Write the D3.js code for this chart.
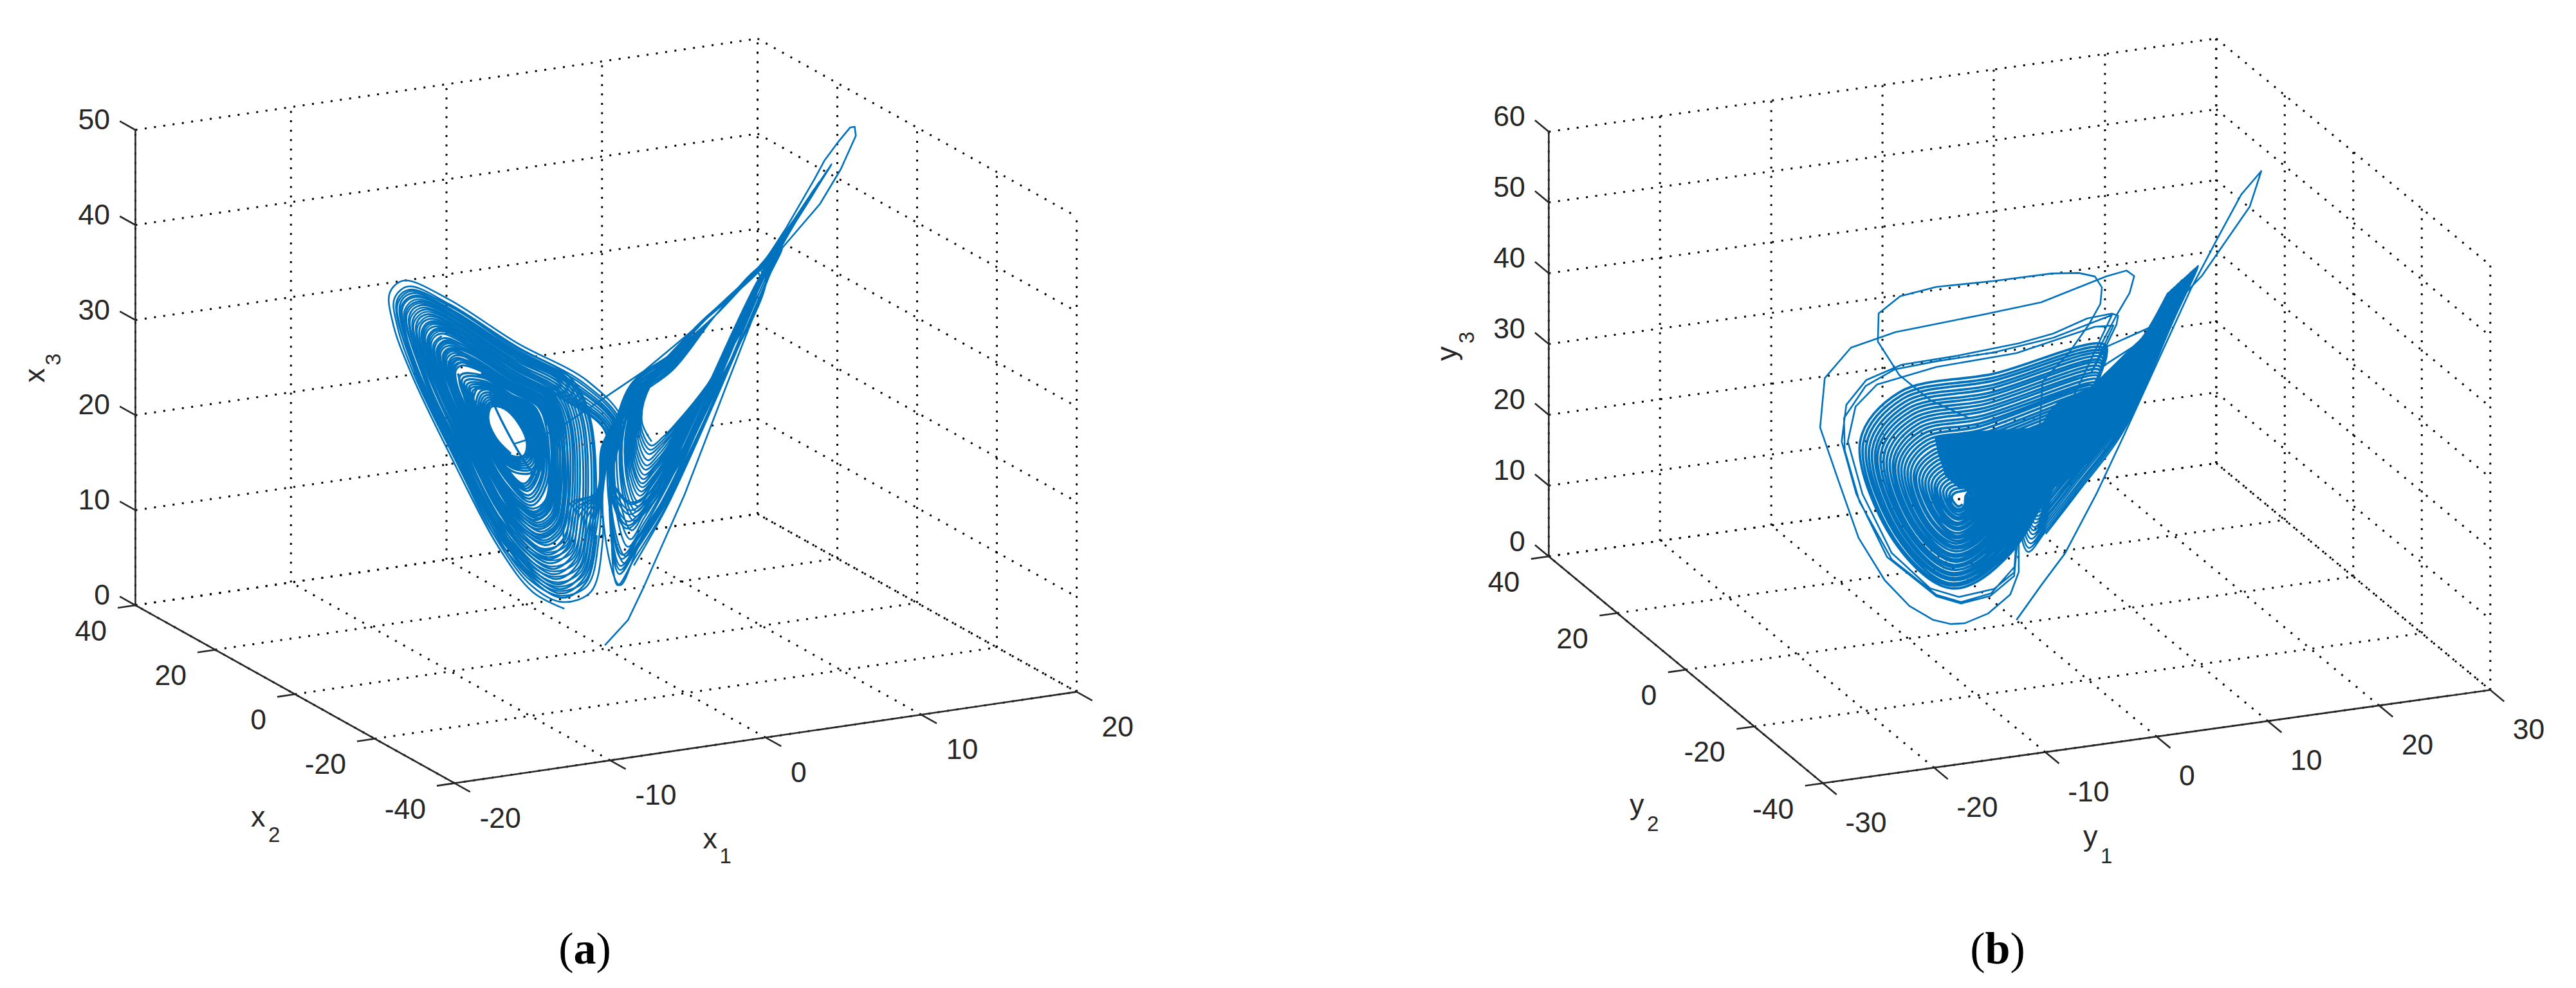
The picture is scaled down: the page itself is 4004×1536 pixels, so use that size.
<!DOCTYPE html>
<html>
<head>
<meta charset="utf-8">
<title>Attractors</title>
<script src="https://cdn.jsdelivr.net/npm/d3@7"></script>
<style>
    html, body { margin: 0; padding: 0; background: #fff; }
</style>
</head>
<body>
<script>
//tick labels
var x1Ticks = [-20, -10, 0, 10, 20]
var x2Ticks = [40, 20, 0, -20, -40]
var x3Ticks = [0, 10, 20, 30, 40, 50]
var y1Ticks = [-30, -20, -10, 0, 10, 20, 30]
var y2Ticks = [40, 20, 0, -20, -40]
var y3Ticks = [0, 10, 20, 30, 40, 50, 60]

//values. the depth coordinate cannot be read from a single view,
//so every point is taken on the plane x2 = x1 (y2 = y1) and only x1, x3 (y1, y3) are stored

//(a) first pass, from the start point up to the far tip and over into the left lobe
var x1Transient = [-.1, 1.9, 3.2, 6.8, 10.4, 14.9, 18.5, 20.3, 21.6, 21.5, 21.1, 20.1, 18.9, 18, 15.6, 13.2, 10.3, 7.1, 3.2, -1.7, -4.5, -7.9]
var x3Transient = [.4, 2.1, 4.8, 13, 22.7, 34.6, 38, 40.8, 43.7, 44.7, 44.8, 43.8, 42.4, 40.8, 36.9, 33.5, 31.5, 29.7, 27.6, 25.9, 25, 25.3]

//(a) big turns that leave the left lobe, dip into the right one and come back
var x1Open = [
    -3.6, -6.3, -9.1, -13.7, -16.9, -18.4, -18.7, -17.5, -13.7, -7.7, -1.6, 1.45, .72, .45, 1, 2.4, 5.45, 9.35, 13.8, 15.2, 9.5, 5.8, 2.1, .33, -.28, -.3, -1.3,
    -3.8, -6.4, -9.1, -13.5, -16.6, -18, -18.3, -17.1, -13.5, -7.7, -1.9, 1.26, .66, .3, 1.14, 2.54, 5.6, 9.39, 13.8, 15.05, 9.5, 5.8, 2.1, .25, -.35, -.6, -1.6,
    -3.9, -6.5, -9.1, -13.3, -16.3, -17.7, -18, -16.9, -13.3, -7.8, -2.1, 1.11, .62, .3, 1.2, 2.6, 5.66, 9.4, 13.8, 14.9, 9.5, 5.8, 2.1, .2, -.4, -.9, -1.8,
    -4.1, -6.5, -9, -13.2, -16.1, -17.4, -17.7, -16.6, -13.2, -7.8, -2.3, .97, .58, .3, 1.25, 2.65, 5.71, 9.41, 13.8, 14.75, 9.5, 5.8, 2.1, .14, -.45, -1.1, -2,
    -4.2, -6.6, -9, -13, -15.9, -17.2, -17.4, -16.4, -13, -7.8, -2.5, .84, .54, .3, 1.35, 2.75, 5.81, 9.44, 13.8, 14.6, 9.5, 5.8, 2.1, .09, -.5, -1.3, -2.2,
    -4.3, -6.6, -9, -12.9, -15.6, -16.9, -17.2, -16.2, -12.9, -7.8, -2.6, .72, .5, .3, 1.4, 2.8, 5.86, 9.45, 13.8, 14.45, 9.5, 5.8, 2.1, .05, -.54, -1.5, -2.4,
    -4.5, -6.7, -9, -12.8, -15.4, -16.6, -16.9, -15.9, -12.8, -7.8, -2.8, .58, .46, .3, 1.75, 3.15, 6.2, 9.53, 13.8, 14.3, 9.5, 5.8, 2.1, 0, -.59, -1.8, -2.6,
    -4.6, -6.8, -9, -12.6, -15.1, -16.3, -16.6, -15.6, -12.6, -7.9, -3.1, .43, .42, .3, 1.8, 3.2, 6.25, 9.54, 13.8, 14.15, 9.5, 5.8, 2.1, -.07, -.64, -2, -2.8,
    -4.8, -6.8, -9, -12.5, -14.9, -16, -16.3, -15.3, -12.5, -7.9, -3.3, .29, .37, .3, 1.85, 3.25, 6.3, 9.56, 13.8, 14, 9.5, 5.8, 2.1, -.13, -.7, -2.3, -3,
    -4.9, -6.9, -8.9, -12.3, -14.6, -15.7, -15.9, -15.1, -12.3, -7.9, -3.5, .14, .33, .3, 1.95, 3.35, 6.4, 9.58, 13.8, 13.85, 9.5, 5.8, 2.1, -.18, -.75, -2.5, -3.2,
    -5, -6.9, -8.9, -12.2, -14.5, -15.5, -15.7, -14.9, -12.2, -7.9, -3.6, .05, .3, .3, 2, 3.4, 6.45, 9.59, 13.8, 13.7, 9.5, 5.8, 2.1, -.22, -.78, -2.7, -3.4,
    -5.2, -7, -8.9, -12, -14.2, -15.2, -15.4, -14.6, -12, -8, -3.8, -.1, .26, .3, 2.08, 3.48, 6.54, 9.61, 13.8, 13.55, 9.5, 5.8, 2.1, -.28, -.84, -2.9, -3.6,
    -5.3, -7.1, -8.9, -11.9, -14, -15, -15.2, -14.4, -11.9, -8, -3.9, -.2, .23, .3, 2.1, 3.5, 6.56, 9.62, 13.8, 13.4, 9.5, 5.8, 2.1, -.31, -.87, -3.1, -3.7
]
var x3Open = [
    5.9, 8.9, 14.6, 27.4, 37.1, 42.8, 46.3, 47, 43.3, 35.8, 28.9, 23.2, 19.2, 13.9, 6.2, 8.2, 12.9, 21.4, 31.9, 35, 30.6, 28.4, 26.7, 20.7, 16.5, 11.4, 6.6,
    6.7, 9.6, 15.1, 27.4, 36.7, 42.2, 45.5, 46.2, 42.6, 35.4, 28.8, 23.2, 19.2, 14.4, 7.3, 9, 13.5, 21.6, 31.9, 34.9, 30.6, 28.3, 26.5, 20.8, 16.5, 12, 7.4,
    7.4, 10.2, 15.5, 27.4, 36.4, 41.7, 44.9, 45.6, 42.2, 35.2, 28.8, 23.2, 19.2, 14.6, 7.7, 9.3, 13.8, 21.7, 31.9, 34.8, 30.6, 28.1, 26.4, 20.9, 16.6, 12.5, 8,
    8, 10.7, 15.8, 27.4, 36.1, 41.2, 44.4, 45, 41.7, 34.9, 28.7, 23.2, 19.3, 14.8, 8.1, 9.6, 14, 21.8, 31.9, 34.6, 30.6, 27.9, 26.2, 21, 16.6, 13, 8.6,
    8.5, 11.2, 16.1, 27.3, 35.8, 40.8, 43.9, 44.5, 41.2, 34.7, 28.7, 23.2, 19.3, 15.2, 8.8, 10.2, 14.5, 21.9, 31.9, 34.5, 30.6, 27.8, 26.1, 21, 16.6, 13.3, 9.1,
    9, 11.6, 16.4, 27.3, 35.6, 40.4, 43.4, 44, 40.8, 34.5, 28.6, 23.2, 19.3, 15.4, 9.2, 10.5, 14.7, 22, 31.9, 34.4, 30.6, 27.7, 26, 21.1, 16.6, 13.7, 9.6,
    9.7, 12.1, 16.8, 27.3, 35.3, 39.9, 42.8, 43.4, 40.4, 34.2, 28.5, 23.2, 19.3, 16.7, 11.8, 12.5, 16.2, 22.6, 31.9, 34.3, 30.6, 27.5, 25.8, 21.2, 16.6, 14.2, 10.3,
    10.3, 12.7, 17.2, 27.3, 35, 39.5, 42.2, 42.8, 39.9, 33.9, 28.5, 23.2, 19.3, 16.9, 12.1, 12.7, 16.4, 22.6, 31.9, 34.2, 30.6, 27.4, 25.7, 21.3, 16.7, 14.7, 10.9,
    10.9, 13.2, 17.6, 27.3, 34.7, 39, 41.6, 42.2, 39.4, 33.7, 28.4, 23.2, 19.3, 17.1, 12.5, 13.1, 16.7, 22.7, 31.9, 34.1, 30.6, 27.2, 25.5, 21.3, 16.7, 15.1, 11.5,
    11.6, 13.8, 17.9, 27.3, 34.3, 38.5, 41.1, 41.6, 38.9, 33.4, 28.4, 23.2, 19.3, 17.4, 13.2, 13.6, 17.1, 22.8, 31.9, 34, 30.6, 27.1, 25.4, 21.4, 16.7, 15.6, 12.1,
    12, 14.1, 18.2, 27.3, 34.1, 38.2, 40.7, 41.2, 38.5, 33.2, 28.3, 23.2, 19.4, 17.6, 13.6, 13.9, 17.3, 22.9, 31.9, 33.9, 30.6, 26.9, 25.2, 21.5, 16.7, 15.9, 12.5,
    12.6, 14.7, 18.5, 27.2, 33.8, 37.7, 40.1, 40.6, 38.1, 33, 28.3, 23.2, 19.4, 17.9, 14.2, 14.4, 17.7, 23, 31.9, 33.8, 30.6, 26.8, 25.1, 21.5, 16.8, 16.4, 13.1,
    13, 15, 18.8, 27.2, 33.6, 37.4, 39.7, 40.2, 37.7, 32.8, 28.2, 23.2, 19.4, 18, 14.4, 14.5, 17.8, 23.1, 31.9, 33.7, 30.6, 26.6, 24.9, 21.6, 16.8, 16.7, 13.5
]

//(a) left lobe, closed rings in between the big turns
var x1Mid = [
    -.8, -1.7, -3.9, -9.1, -13.4, -16.4, -18.1, -17, -13.4, -7.7, -3.05, -1.36,
    -1, -1.9, -4, -9, -13.3, -16.2, -17.8, -16.7, -13.3, -7.8, -3.2, -1.5,
    -1.2, -2.1, -4.1, -9, -13.1, -16, -17.6, -16.5, -13.1, -7.8, -3.3, -1.7,
    -1.4, -2.3, -4.3, -9, -13, -15.7, -17.3, -16.2, -13, -7.8, -3.5, -1.96,
    -1.7, -2.5, -4.4, -9, -12.8, -15.5, -17, -16, -12.8, -7.8, -3.66, -2.15,
    -1.9, -2.7, -4.6, -9, -12.7, -15.3, -16.7, -15.7, -12.7, -7.9, -3.83, -2.38,
    -2.1, -2.9, -4.7, -9, -12.5, -15, -16.4, -15.5, -12.5, -7.9, -4, -2.6,
    -2.4, -3.1, -4.9, -9, -12.4, -14.8, -16.1, -15.2, -12.4, -7.9, -4.18, -2.84,
    -2.6, -3.3, -5, -8.9, -12.2, -14.5, -15.8, -15, -12.2, -7.9, -4.3, -3.03,
    -2.8, -3.5, -5.1, -8.9, -12.1, -14.3, -15.6, -14.8, -12.1, -7.9, -4.47, -3.2,
    -3, -3.7, -5.2, -8.9, -12, -14.1, -15.3, -14.5, -12, -8, -4.6, -3.4,
    -3.2, -3.9, -5.3, -8.9, -11.9, -13.9, -15.1, -14.3, -11.9, -8, -4.76, -3.6,
    -3.5, -4.1, -5.5, -8.9, -11.7, -13.7, -14.8, -14, -11.7, -8, -4.93, -3.83,
    -3.7, -4.3, -5.6, -8.9, -11.6, -13.5, -14.5, -13.8, -11.6, -8, -5.08, -4.02,
    -3.9, -4.4, -5.7, -8.8, -11.4, -13.2, -14.3, -13.6, -11.4, -8, -5.2, -4.2,
    -4.1, -4.6, -5.9, -8.8, -11.3, -13, -14, -13.4, -11.3, -8.1, -5.37, -4.4,
    -4.3, -4.8, -6, -8.8, -11.2, -12.8, -13.8, -13.1, -11.2, -8.1, -5.5, -4.6,
    -4.5, -5, -6.1, -8.8, -11.1, -12.6, -13.5, -12.9, -11.1, -8.1, -5.66, -4.8,
    -4.6, -5.1, -6.2, -8.8, -10.9, -12.4, -13.3, -12.7, -10.9, -8.1, -5.77, -4.93,
    -4.8, -5.3, -6.3, -8.8, -10.8, -12.3, -13.1, -12.5, -10.8, -8.1, -5.9, -5.08
]
var x3Mid = [
    12.3, 7.8, 7.2, 15.3, 27.4, 36.5, 45.1, 45.8, 42.3, 35.3, 29.9, 24.8,
    12.7, 8.3, 7.7, 15.6, 27.4, 36.2, 44.7, 45.3, 41.9, 35, 29.8, 24.9,
    13.1, 8.8, 8.2, 16, 27.3, 36, 44.2, 44.8, 41.5, 34.8, 29.7, 24.9,
    13.6, 9.4, 8.8, 16.3, 27.3, 35.7, 43.6, 44.2, 41, 34.6, 29.7, 25,
    14, 10, 9.4, 16.6, 27.3, 35.4, 43.1, 43.7, 40.6, 34.3, 29.6, 25.1,
    14.4, 10.6, 10, 17, 27.3, 35.1, 42.5, 43.1, 40.1, 34.1, 29.5, 25.1,
    14.9, 11.2, 10.6, 17.4, 27.3, 34.8, 41.9, 42.5, 39.6, 33.8, 29.4, 25.2,
    15.4, 11.8, 11.3, 17.7, 27.3, 34.5, 41.4, 41.9, 39.1, 33.5, 29.3, 25.3,
    15.7, 12.3, 11.8, 18, 27.3, 34.2, 40.9, 41.4, 38.7, 33.3, 29.2, 25.3,
    16.1, 12.8, 12.3, 18.4, 27.2, 34, 40.4, 40.9, 38.3, 33.1, 29.1, 25.4,
    16.5, 13.3, 12.8, 18.7, 27.2, 33.7, 39.9, 40.4, 37.9, 32.9, 29, 25.4,
    16.9, 13.8, 13.4, 19, 27.2, 33.5, 39.4, 39.9, 37.5, 32.6, 29, 25.5,
    17.4, 14.4, 14, 19.3, 27.2, 33.2, 38.8, 39.3, 37, 32.4, 28.9, 25.5,
    17.8, 14.9, 14.5, 19.6, 27.2, 32.9, 38.4, 38.8, 36.6, 32.2, 28.8, 25.6,
    18.1, 15.4, 15, 20, 27.2, 32.7, 37.9, 38.3, 36.2, 31.9, 28.7, 25.7,
    18.5, 15.9, 15.6, 20.3, 27.2, 32.4, 37.4, 37.8, 35.8, 31.7, 28.6, 25.7,
    18.9, 16.4, 16.1, 20.6, 27.2, 32.2, 36.9, 37.3, 35.3, 31.5, 28.5, 25.8,
    19.3, 16.9, 16.6, 20.9, 27.1, 31.9, 36.4, 36.7, 34.9, 31.3, 28.5, 25.8,
    19.6, 17.4, 17, 21.1, 27.1, 31.7, 36, 36.4, 34.6, 31.1, 28.4, 25.9,
    19.9, 17.8, 17.4, 21.4, 27.1, 31.5, 35.6, 36, 34.3, 30.9, 28.3, 25.9
]

//(a) left lobe, further in
var x1Left = [
    -14.2, -14.9, -14.7, -13.8, -11.8, -8.9, -7.1, -5.4, -4, -3.3, -3.7, -4.8, -8, -11.8,
    -13.9, -14.6, -14.4, -13.5, -11.6, -8.9, -7.2, -5.6, -4.2, -3.6, -3.9, -5, -8, -11.6,
    -13.7, -14.4, -14.2, -13.4, -11.5, -8.8, -7.2, -5.7, -4.3, -3.7, -4.1, -5.1, -8, -11.5,
    -13.5, -14.1, -13.9, -13.1, -11.4, -8.8, -7.3, -5.8, -4.5, -4, -4.3, -5.3, -8.1, -11.4,
    -13.3, -13.9, -13.7, -13, -11.3, -8.8, -7.3, -5.9, -4.7, -4.2, -4.5, -5.4, -8.1, -11.3,
    -13, -13.6, -13.5, -12.7, -11.1, -8.8, -7.4, -6.1, -4.9, -4.4, -4.7, -5.6, -8.1, -11.1,
    -12.8, -13.4, -13.3, -12.5, -11, -8.8, -7.4, -6.1, -5, -4.6, -4.9, -5.7, -8.1, -11,
    -12.6, -13.2, -13.1, -12.4, -10.9, -8.8, -7.5, -6.2, -5.2, -4.7, -5, -5.8, -8.1, -10.9,
    -12.5, -13, -12.9, -12.2, -10.8, -8.8, -7.5, -6.3, -5.3, -4.9, -5.2, -5.9, -8.1, -10.8
]
var x3Left = [
    39.6, 39.1, 36.9, 33.3, 27.2, 19.2, 15.6, 13.7, 14.1, 17.1, 25.5, 28.9, 32.5, 37.2,
    39, 38.5, 36.4, 33, 27.2, 19.5, 16.1, 14.3, 14.7, 17.6, 25.6, 28.8, 32.2, 36.7,
    38.6, 38.2, 36.1, 32.8, 27.2, 19.8, 16.5, 14.7, 15.1, 17.9, 25.6, 28.8, 32.1, 36.4,
    38, 37.6, 35.6, 32.5, 27.2, 20.1, 17, 15.3, 15.7, 18.4, 25.7, 28.7, 31.8, 35.9,
    37.6, 37.2, 35.3, 32.3, 27.2, 20.4, 17.4, 15.8, 16.1, 18.7, 25.7, 28.6, 31.6, 35.6,
    37, 36.6, 34.9, 32, 27.2, 20.8, 17.9, 16.4, 16.8, 19.2, 25.8, 28.5, 31.4, 35.1,
    36.5, 36.2, 34.5, 31.8, 27.1, 21, 18.3, 16.8, 17.2, 19.5, 25.8, 28.4, 31.2, 34.8,
    36.1, 35.8, 34.2, 31.6, 27.1, 21.2, 18.6, 17.2, 17.6, 19.8, 25.9, 28.4, 31, 34.4,
    35.7, 35.4, 33.9, 31.4, 27.1, 21.5, 19, 17.7, 18, 20.1, 25.9, 28.3, 30.8, 34.1
]

//(a) left lobe, tight rings round the hole
var x1Core = [
    -12.8, -12, -8.8, -6.4, -5, -6.1, -8.2, -10.7,
    -12.6, -11.9, -8.7, -6.5, -5.2, -6.2, -8.2, -10.6,
    -12.4, -11.7, -8.7, -6.6, -5.4, -6.3, -8.2, -10.5,
    -12.2, -11.5, -8.7, -6.7, -5.5, -6.4, -8.2, -10.4,
    -12, -11.4, -8.7, -6.8, -5.7, -6.5, -8.2, -10.3,
    -11.8, -11.2, -8.7, -6.9, -5.8, -6.6, -8.2, -10.2,
    -11.7, -11.1, -8.7, -7, -6, -6.7, -8.3, -10.1,
    -11.5, -11, -8.7, -7.1, -6.1, -6.8, -8.3, -10,
    -6.01, -5.5, -6.76, -9.03, -11.01, -11.52, -10.26, -7.99,
    -6.22, -5.75, -6.91, -8.99, -10.8, -11.27, -10.11, -8.03,
    -6.37, -5.94, -7.02, -8.96, -10.65, -11.08, -10, -8.06,
    -6.51, -6.11, -7.11, -8.93, -10.51, -10.91, -9.91, -8.09,
    -6.65, -6.27, -7.21, -8.9, -10.37, -10.75, -9.81, -8.12,
    -6.77, -6.42, -7.3, -8.87, -10.25, -10.6, -9.72, -8.15,
    -6.9, -6.57, -7.38, -8.85, -10.12, -10.45, -9.64, -8.17,
    -7.01, -6.71, -7.46, -8.82, -10.01, -10.31, -9.56, -8.2,
    -7.12, -6.84, -7.54, -8.8, -9.9, -10.18, -9.48, -8.22
]
var x3Core = [
    35, 31.2, 21.7, 18.1, 20.4, 28.2, 30.6, 33.8,
    34.7, 31, 22, 18.5, 20.7, 28.2, 30.5, 33.5,
    34.3, 30.8, 22.2, 18.9, 21, 28.1, 30.3, 33.1,
    33.9, 30.6, 22.5, 19.3, 21.3, 28.1, 30.1, 32.8,
    33.5, 30.4, 22.7, 19.8, 21.6, 28, 29.9, 32.5,
    33.2, 30.2, 22.9, 20.1, 21.9, 27.9, 29.8, 32.2,
    32.9, 30.1, 23.1, 20.4, 22.1, 27.9, 29.7, 32,
    32.6, 29.9, 23.3, 20.7, 22.3, 27.8, 29.5, 31.7,
    21.09, 23.19, 27.48, 31.42, 32.71, 30.61, 26.32, 22.38,
    21.57, 23.5, 27.43, 31.04, 32.23, 30.3, 26.37, 22.76,
    21.93, 23.73, 27.39, 30.77, 31.87, 30.07, 26.41, 23.03,
    22.25, 23.93, 27.36, 30.51, 31.55, 29.87, 26.44, 23.29,
    22.57, 24.14, 27.33, 30.26, 31.23, 29.66, 26.47, 23.54,
    22.86, 24.32, 27.3, 30.04, 30.94, 29.48, 26.5, 23.76,
    23.15, 24.51, 27.27, 29.81, 30.65, 29.29, 26.53, 23.99,
    23.41, 24.68, 27.25, 29.61, 30.39, 29.12, 26.55, 24.19,
    23.67, 24.84, 27.22, 29.41, 30.13, 28.96, 26.58, 24.39
]

//(a) right lobe, seen nearly edge on
var x1Right = [
    3.95, 3.1, 3.8, 8.2, 11.6, 13.2, 12.1, 8.8, 5.7, 4.9,
    3.9, 3, 3.7, 8.2, 11.6, 13.4, 12.2, 8.8, 5.7, 4.8,
    3.8, 2.9, 3.6, 8.2, 11.7, 13.4, 12.2, 8.7, 5.7, 4.8,
    3.7, 2.8, 3.5, 8.2, 11.8, 13.6, 12.2, 8.8, 5.7, 4.7,
    3.6, 2.7, 3.3, 8.2, 11.9, 13.7, 12.3, 8.7, 5.7, 4.6,
    3.5, 2.6, 3.2, 8.1, 11.9, 13.8, 12.3, 8.7, 5.7, 4.5,
    3.4, 2.5, 3.1, 8.1, 12, 13.9, 12.4, 8.7, 5.7, 4.4,
    3.3, 2.4, 3, 8.1, 12.1, 14, 12.4, 8.7, 5.7, 4.3,
    3.2, 2.3, 2.8, 8.1, 12.2, 14.1, 12.5, 8.7, 5.7, 4.2,
    3.1, 2.2, 2.7, 8.1, 12.2, 14.2, 12.5, 8.6, 5.7, 4.2,
    3.1, 2.1, 2.6, 8.1, 12.3, 14.4, 12.6, 8.6, 5.6, 4.1,
    3, 2, 2.5, 8, 12.3, 14.5, 12.6, 8.6, 5.6, 4,
    2.9, 1.9, 2.4, 8, 12.4, 14.6, 12.6, 8.6, 5.6, 3.9,
    2.8, 1.8, 2.3, 8, 12.5, 15.1, 12.7, 8.6, 5.6, 3.8,
    2.7, 1.7, 2.2, 8, 12.6, 15.4, 12.7, 8.6, 5.6, 3.8,
    2.6, 1.5, 2, 8, 12.7, 15.9, 12.8, 8.5, 5.6, 3.7,
    2.5, 1.4, 1.9, 7.9, 12.7, 16.4, 12.9, 8.6, 5.6, 3.6,
    2.4, 1.3, 1.8, 7.9, 12.8, 17, 13, 8.6, 5.6, 3.5,
    2.2, 1.1, 1.5, 7.9, 13, 17.6, 13.3, 8.7, 5.6, 3.3,
    2.1, .9, 1.3, 7.9, 13.1, 18.2, 13.6, 8.8, 5.5, 3.2,
    1.9, .8, 1.1, 7.8, 13.2, 18.5, 13.8, 8.9, 5.5, 3.1,
    1.7, .5, .9, 7.8, 13.4, 18.9, 14.1, 9, 5.5, 2.9,
    1.6, .4, .7, 7.8, 13.5, 19.2, 14.3, 9, 5.5, 2.8,
    1.2, -.1, .2, 7.7, 13.8, 19.5, 14.9, 9.2, 5.5, 2.4
]
var x3Right = [
    19.9, 22.4, 25.8, 30.2, 32.6, 33.2, 28.65, 23.65, 20.5, 19.9,
    19.5, 22.1, 25.7, 30.2, 32.6, 33.4, 28.9, 23.6, 20.3, 19.5,
    19.1, 21.8, 25.6, 30.2, 32.7, 33.5, 29, 23.5, 20, 19.2,
    18.7, 21.5, 25.5, 30.2, 32.7, 33.6, 29.3, 23.5, 19.8, 18.8,
    18.1, 21.1, 25.3, 30.2, 32.8, 33.8, 29.5, 23.5, 19.5, 18.3,
    17.6, 20.6, 25.2, 30.2, 32.8, 34, 29.8, 23.3, 19.2, 17.8,
    17.2, 20.3, 25.1, 30.2, 32.9, 34, 30, 23.3, 19, 17.4,
    16.7, 20, 25, 30.2, 32.9, 34.2, 30.1, 23.3, 18.8, 17.1,
    16.3, 19.7, 24.8, 30.2, 32.9, 34.4, 30.4, 23.2, 18.5, 16.7,
    15.9, 19.4, 24.7, 30.2, 33, 34.6, 30.5, 23.1, 18.3, 16.3,
    15.5, 19.1, 24.6, 30.2, 33, 34.7, 30.8, 23, 18.1, 15.9,
    15.1, 18.8, 24.5, 30.2, 33.1, 34.9, 31, 23.1, 17.8, 15.6,
    14.7, 18.5, 24.4, 30.2, 33.1, 35.1, 31.1, 23, 17.6, 15.2,
    14.1, 18.1, 24.2, 30.2, 33.1, 35.8, 31.4, 22.9, 17.3, 14.7,
    13.7, 17.8, 24.1, 30.2, 33.2, 36.2, 31.6, 22.9, 17.1, 14.3,
    13.2, 17.4, 24, 30.2, 33.2, 36.8, 31.9, 22.8, 16.8, 13.8,
    12.7, 17.1, 23.9, 30.1, 33.3, 37.5, 32.1, 22.7, 16.5, 13.5,
    12.3, 16.7, 23.8, 30.1, 33.3, 38.3, 32.2, 22.6, 16.3, 13.1,
    11.4, 16, 23.5, 30.1, 33.4, 39.2, 32.6, 22.4, 15.8, 12.2,
    10.5, 15.4, 23.3, 30.1, 33.5, 40, 32.9, 22.3, 15.3, 11.5,
    9.8, 14.9, 23.1, 30.1, 33.5, 40.4, 33.2, 22.1, 15, 10.9,
    8.9, 14.2, 22.8, 30.1, 33.6, 40.9, 33.5, 21.9, 14.4, 10,
    8.2, 13.6, 22.7, 30.1, 33.7, 41.3, 33.8, 21.8, 14, 9.4,
    6.1, 12.1, 22.1, 30.1, 33.9, 41.7, 34.6, 21.4, 12.9, 7.6
]

//(b) first pass and the big outer loops
var y1Transient = [
    -.4, 2.8, 5.9, 10, 13.6, 22.3, 25.7, 28.8, 31.4, 29.9, 23.7, 20.8, 16.8, 10.2,
    12.6, 14.3, 14.9, 13.9, 11.3, 8.1, 2.8, -4.9, -16.1, -21.9, -25.3, -25.9, -23.6, -20.9, -17.5, -14.3, -11.2, -8.9, -7.1, -4.1, -1.2, -.1, -.1, .4, 2.2,
    3, 6.4, 9, 10.5, 10.7, 9.8, 7.7, 4.2, -3.3, -10.8, -15.5, -18.3, -18.4, -15.6, -11.6, -6.6
]
var y3Transient = [
    .7, 3.6, 6.2, 12.1, 18.2, 33.5, 38.4, 42.7, 44.4, 40.3, 34.4, 32.9, 31.3, 32.2,
    35.7, 37.8, 39.8, 41.2, 42, 42.6, 43.6, 46.6, 51.1, 52.5, 50.3, 43.7, 35, 25, 16.9, 11.3, 7.4, 5.4, 4.4, 3.9, 4.8, 7.3, 11.7, 13.5, 19.5,
    32.3, 34.2, 36.6, 38.6, 40.8, 42.9, 44.7, 46.8, 50.4, 54.2, 55.8, 55.1, 51.2, 44.7, 38.7, 33.1
]
var y1Loops = [
    -.2, -.7, -3.8, -7.6, -10.8, -17.2, -21.2, -23.1, -22.5, -19.9, -15.3, -8.1, -.1, 4.4, 8.8, 12, 12.8, 12.6, 11.2, 9.3,
    12.2, 9.8, -.4, -10.8, -18.5, -21.3, -22.3, -20.4, -16.6, -11.6, -7.9, -3.3, -.7, -.2,
    12, 4.4, -3.3, -10.8, -16.2, -20, -22.8, -22.7, -20.8, -16.6, -10.8, -7.6, -3.7, -.6, -.1,
    5.1, 10, 10.95, 14.8
]
var y3Loops = [
    12.5, 7.1, 6.2, 7.5, 10.5, 20, 31.4, 40, 44.8, 46.7, 46, 42.8, 39.6, 38.2, 37.6, 36.3, 35.5, 34.4, 32.1, 29.6,
    34.5, 35.8, 38.4, 42.9, 45.2, 43.8, 39.5, 30.9, 20.2, 12.1, 8.6, 6.9, 7.6, 15.5,
    36.1, 37.6, 40.3, 43.7, 45.9, 45.9, 43.1, 38.5, 30.1, 19.3, 10.7, 7.7, 6.5, 8.4, 13.6,
    21.3, 27.3, 29.6, 29.9
]

//(b) outline of the part where the lines run together into solid colour
var y1Solid = [10.03, 14.96, 20.14, 13.79, 10.03, 5.43, 2.01, .5, -1.5, -4.35, -3.76, -4.35, -7.86, -9.53, -10.45, -10.95, -7.27, 1.42, 4.26, 7.19]
var y3Solid = [27.8, 30, 32, 23.2, 17.6, 16.3, 17.1, 15, 12, 12.3, 17.9, 21, 24.1, 26.7, 30.3, 33.1, 31.4, 26.6, 25.7, 27]

//(b) left lobe, the dense bowl
var y1Bowl = [
    9.3, 11.2, -3.3, -15.6, -20.7, -15.8, -8.7, -1.2,
    9.3, 11.1, -3.4, -15.4, -20.3, -15.6, -8.7, -1.4,
    9.3, 11, -3.5, -15.2, -19.9, -15.3, -8.7, -1.6,
    9.3, 10.9, -3.7, -14.9, -19.5, -15.1, -8.6, -1.8,
    9.3, 10.8, -3.8, -14.7, -19.1, -14.9, -8.6, -2,
    9.3, 10.7, -4, -14.5, -18.7, -14.6, -8.6, -2.2,
    9.3, 10.6, -4.1, -14.2, -18.4, -14.4, -8.6, -2.4,
    9.3, 10.5, -4.2, -14, -18, -14.1, -8.5, -2.6,
    9.3, 10.4, -4.4, -13.8, -17.6, -13.9, -8.5, -2.8,
    9.3, 10.3, -4.5, -13.5, -17.2, -13.7, -8.5, -3,
    9.3, 10.2, -4.6, -13.3, -16.8, -13.4, -8.4, -3.2,
    9.3, 10.1, -4.8, -13.1, -16.4, -13.2, -8.4, -3.4,
    9.3, 10, -4.9, -12.8, -16.1, -13, -8.4, -3.6,
    -.7, 9.9, -5.1, -12.6, -15.7, -12.7, -8.4, -3.8,
    -1.1, 9.8, -5.2, -12.4, -15.3, -12.5, -8.3, -4,
    -1.4, 9.7, -5.3, -12.1, -14.9, -12.2, -8.3, -4.2,
    -1.8, 9.6, -5.5, -11.9, -14.5, -12, -8.3, -4.4,
    -2.1, 9.5, -5.6, -11.7, -14.1, -11.8, -8.3, -4.6,
    -2.5, 9.4, -5.7, -11.4, -13.7, -11.5, -8.2, -4.8,
    -2.8, 9.3, -5.9, -11.2, -13.4, -11.3, -8.2, -5,
    -3.2, 9.2, -6, -11, -13, -11, -8.2, -5.2,
    -3.5, 9.2, -6.2, -10.7, -12.6, -10.8, -8.2, -5.4,
    -3.9, 9.1, -6.3, -10.5, -12.2, -10.6, -8.1, -5.6,
    -4.2, 9, -6.4, -10.3, -11.8, -10.3, -8.1, -5.8,
    -4.6, 8.9, -6.6, -10, -11.4, -10.1, -8.1, -6,
    -5, -3.4, -6.7, -9.8, -11, -9.9, -8.1, -6.2,
    -5.3, -3.9, -6.9, -9.6, -10.7, -9.6, -8, -6.4,
    -5.6, -4.4, -7, -9.3, -10.3, -9.4, -8, -6.6,
    -6, -5, -7.1, -9.1, -9.9, -9.1, -8, -6.8,
    -6.3, -5.5, -7.3, -8.9, -9.5, -8.9, -8, -7,
    -6.7, -6.1, -7.4, -8.6, -9.1, -8.7, -7.9, -7.2,
    -7, -6.6, -7.5, -8.4, -8.8, -8.4, -7.9, -7.4
]
var y3Bowl = [
    26.9, 32.3, 37.3, 42.3, 38.5, 20.6, 10.3, 10.6,
    26.9, 31.9, 36.8, 41.7, 38, 20.6, 10.7, 11,
    26.9, 31.5, 36.4, 41.1, 37.5, 20.7, 11, 11.3,
    26.9, 31.2, 35.9, 40.5, 37, 20.7, 11.4, 11.6,
    26.9, 30.8, 35.5, 39.9, 36.5, 20.8, 11.7, 12,
    26.9, 30.4, 35, 39.3, 36.1, 20.8, 12.1, 12.3,
    26.9, 30.1, 34.6, 38.7, 35.6, 20.9, 12.4, 12.7,
    26.9, 29.7, 34.1, 38.1, 35.1, 20.9, 12.8, 13,
    26.9, 29.3, 33.7, 37.5, 34.6, 21, 13.2, 13.4,
    26.9, 28.9, 33.2, 36.9, 34.1, 21, 13.5, 13.7,
    26.9, 28.6, 32.8, 36.3, 33.6, 21.1, 13.9, 14.1,
    26.9, 28.2, 32.3, 35.7, 33.1, 21.1, 14.2, 14.4,
    26.9, 27.8, 31.9, 35.1, 32.6, 21.2, 14.6, 14.8,
    23.2, 27.4, 31.4, 34.5, 32.1, 21.2, 14.9, 15.1,
    23.2, 27.1, 31, 33.9, 31.7, 21.3, 15.3, 15.5,
    23.1, 26.7, 30.5, 33.3, 31.2, 21.3, 15.7, 15.8,
    23.1, 26.3, 30, 32.7, 30.7, 21.4, 16, 16.2,
    23, 25.9, 29.6, 32.1, 30.2, 21.4, 16.4, 16.5,
    23, 25.6, 29.1, 31.4, 29.7, 21.5, 16.7, 16.9,
    22.9, 25.2, 28.7, 30.8, 29.2, 21.5, 17.1, 17.2,
    22.9, 24.8, 28.2, 30.2, 28.7, 21.6, 17.4, 17.6,
    22.8, 24.4, 27.8, 29.6, 28.2, 21.6, 17.8, 17.9,
    22.8, 24.1, 27.3, 29, 27.7, 21.7, 18.2, 18.3,
    22.7, 23.7, 26.9, 28.4, 27.3, 21.7, 18.5, 18.6,
    22.7, 23.3, 26.4, 27.8, 26.8, 21.8, 18.9, 19,
    22.6, 24.2, 26, 27.2, 26.3, 21.8, 19.2, 19.3,
    22.6, 24, 25.5, 26.6, 25.8, 21.8, 19.6, 19.6,
    22.5, 23.7, 25.1, 26, 25.3, 21.9, 19.9, 20,
    22.5, 23.5, 24.6, 25.4, 24.8, 21.9, 20.3, 20.3,
    22.4, 23.2, 24.2, 24.8, 24.3, 22, 20.7, 20.7,
    22.4, 23, 23.7, 24.2, 23.8, 22, 21, 21,
    22.3, 22.8, 23.3, 23.6, 23.3, 22.1, 21.4, 21.4
]

//(b) right lobe, the fan
var y1Fan = [
    4.7, 3.3, 4.7, 10.3, 16, 19.3, 16.8, 11, 7.2, 5.5,
    4.6, 3.2, 4.6, 10.3, 16.1, 19.4, 16.9, 11, 7.2, 5.5,
    4.4, 3, 4.4, 10.3, 16.2, 19.6, 17, 11.1, 7.2, 5.4,
    4.3, 2.9, 4.3, 10.3, 16.3, 19.7, 17.1, 11.2, 7.2, 5.3,
    4.2, 2.8, 4.2, 10.3, 16.4, 19.8, 17.2, 11.3, 7.2, 5.3,
    4.1, 2.7, 4, 10.3, 16.5, 20, 17.4, 11.4, 7.3, 5.2,
    4, 2.6, 3.9, 10.3, 16.6, 20.1, 17.5, 11.5, 7.3, 5.1,
    3.9, 2.5, 3.8, 10.3, 16.7, 20.2, 17.6, 11.5, 7.3, 5,
    3.7, 2.4, 3.7, 10.3, 16.9, 20.4, 17.7, 11.6, 7.3, 5,
    3.6, 2.3, 3.6, 10.3, 17, 20.5, 17.8, 11.7, 7.3, 4.9,
    3.5, 2.2, 3.4, 10.3, 17.1, 20.6, 17.9, 11.8, 7.3, 4.8,
    3.4, 2, 3.3, 10.3, 17.2, 20.8, 18, 11.9, 7.3, 4.7,
    3.2, 1.9, 3.2, 10.3, 17.3, 20.9, 18.1, 12, 7.4, 4.7,
    3.1, 1.8, 3.1, 10.3, 17.4, 21, 18.2, 12, 7.4, 4.6,
    3, 1.7, 2.9, 10.3, 17.5, 21.1, 18.4, 12.1, 7.4, 4.5,
    2.9, 1.6, 2.8, 10.3, 17.6, 21.3, 18.5, 12.2, 7.4, 4.5,
    2.8, 1.5, 2.7, 10.3, 17.7, 21.4, 18.6, 12.3, 7.4, 4.4,
    2.6, 1.4, 2.5, 10.3, 17.9, 21.5, 18.7, 12.4, 7.4, 4.3,
    2.5, 1.3, 2.4, 10.3, 18, 21.7, 18.8, 12.5, 7.4, 4.3,
    2.4, 1.2, 2.3, 10.3, 18.1, 21.8, 18.9, 12.5, 7.5, 4.2,
    2.3, 1, 2.2, 10.3, 18.2, 21.9, 19, 12.6, 7.5, 4.1,
    2.2, .9, 2, 10.3, 18.3, 22.1, 19.1, 12.7, 7.5, 4.1,
    2, .8, 1.9, 10.3, 18.4, 22.2, 19.2, 12.8, 7.5, 4,
    1.9, .7, 1.8, 10.3, 18.5, 22.3, 19.4, 12.9, 7.5, 3.9,
    1.8, .6, 1.7, 10.3, 18.6, 22.4, 19.5, 13, 7.5, 3.9,
    1.7, .5, 1.5, 10.3, 18.8, 22.6, 19.6, 13.1, 7.5, 3.8,
    1.5, .3, 1.4, 10.3, 18.9, 22.8, 19.7, 13.2, 7.6, 3.7,
    1.4, .2, 1.2, 10.3, 19, 22.9, 19.9, 13.3, 7.6, 3.6,
    1.2, .1, 1.1, 10.3, 19.2, 23.1, 20, 13.4, 7.6, 3.5,
    1.1, -.1, .9, 10.3, 19.3, 23.2, 20.1, 13.5, 7.6, 3.4
]
var y3Fan = [
    22.4, 26.1, 27.9, 27.6, 30.5, 34.7, 30.4, 25.8, 23.6, 22.8,
    22, 25.8, 27.8, 27.6, 30.5, 34.7, 30.4, 25.6, 23.3, 22.4,
    21.5, 25.4, 27.6, 27.6, 30.6, 34.8, 30.4, 25.3, 22.9, 21.9,
    21.1, 25, 27.5, 27.6, 30.7, 34.8, 30.4, 25.1, 22.6, 21.6,
    20.7, 24.7, 27.4, 27.6, 30.7, 34.9, 30.4, 24.9, 22.3, 21.2,
    20.2, 24.3, 27.2, 27.6, 30.8, 34.9, 30.4, 24.6, 21.9, 20.7,
    19.8, 24, 27.1, 27.6, 30.8, 35, 30.4, 24.4, 21.6, 20.3,
    19.4, 23.6, 27, 27.6, 30.8, 35, 30.4, 24.2, 21.3, 20,
    18.9, 23.2, 26.8, 27.6, 30.9, 35.1, 30.5, 23.9, 21, 19.5,
    18.5, 22.9, 26.7, 27.6, 31, 35.1, 30.5, 23.7, 20.7, 19.1,
    18.1, 22.6, 26.6, 27.6, 31, 35.2, 30.5, 23.5, 20.4, 18.7,
    17.6, 22.1, 26.4, 27.6, 31.1, 35.2, 30.5, 23.2, 20, 18.2,
    17.2, 21.8, 26.3, 27.6, 31.1, 35.3, 30.5, 23, 19.7, 17.9,
    16.8, 21.5, 26.2, 27.6, 31.1, 35.3, 30.5, 22.8, 19.4, 17.5,
    16.3, 21.1, 26, 27.6, 31.2, 35.4, 30.5, 22.5, 19, 17,
    15.9, 20.8, 25.9, 27.6, 31.3, 35.4, 30.5, 22.3, 18.7, 16.7,
    15.5, 20.4, 25.8, 27.6, 31.3, 35.4, 30.5, 22.1, 18.4, 16.3,
    15, 20, 25.6, 27.6, 31.4, 35.5, 30.5, 21.8, 18, 15.8,
    14.6, 19.7, 25.5, 27.6, 31.4, 35.5, 30.5, 21.6, 17.7, 15.4,
    14.2, 19.4, 25.4, 27.6, 31.4, 35.6, 30.5, 21.4, 17.4, 15.1,
    13.7, 18.9, 25.2, 27.6, 31.5, 35.6, 30.5, 21.1, 17, 14.6,
    13.3, 18.6, 25.1, 27.6, 31.6, 35.7, 30.5, 20.9, 16.7, 14.2,
    12.9, 18.3, 25, 27.6, 31.6, 35.7, 30.5, 20.7, 16.4, 13.8,
    12.4, 17.9, 24.8, 27.6, 31.7, 35.8, 30.6, 20.4, 16, 13.3,
    12, 17.5, 24.7, 27.6, 31.7, 35.8, 30.6, 20.2, 15.8, 13,
    11.5, 17.1, 24.5, 27.6, 31.8, 35.9, 30.6, 19.9, 15.4, 12.5,
    11, 16.7, 24.4, 27.6, 31.8, 35.9, 30.6, 19.6, 15, 12,
    10.4, 16.3, 24.2, 27.6, 31.9, 36, 30.6, 19.4, 14.6, 11.5,
    9.9, 15.8, 24.1, 27.6, 31.9, 36, 30.6, 19.1, 14.2, 11,
    9.4, 15.4, 23.9, 27.6, 32, 36.1, 30.6, 18.8, 13.8, 10.5
]

var lineColor = '#0072BD'
var axisColor = '#262626'
var tickFont = 'Liberation Sans'
var tickLen = 26.5
var lineW = 2.6

var svg = d3.select('body').append('svg')
    .attr('width', 4004)
    .attr('height', 1536)
    .style('display', 'block')

function Panel(config) {
    var g = svg.append('g')
    var ticksA = config.ticksA
    var ticksB = config.ticksB
    var ticksC = config.ticksC
    //each scale gives how far along its box edge a value sits
    var A = d3.scaleLinear().domain([ticksA[0], ticksA[ticksA.length - 1]]).range([0, 1])
    var B = d3.scaleLinear().domain([ticksB[0], ticksB[ticksB.length - 1]]).range([0, 1])
    var C = d3.scaleLinear().domain([ticksC[0], ticksC[ticksC.length - 1]]).range([0, 1])
    var aMin = ticksA[0]
    var aMax = ticksA[ticksA.length - 1]
    var bBack = ticksB[0]
    var bFront = ticksB[ticksB.length - 1]
    var cMin = ticksC[0]
    var cMax = ticksC[ticksC.length - 1]

    function project(a, b, c) {
        return [
            config.origin[0] + A(a) * config.edgeA[0] + B(b) * config.edgeB[0],
            config.origin[1] + A(a) * config.edgeA[1] + B(b) * config.edgeB[1] + C(c) * config.edgeC
        ]
    }

    //dotted grid on the floor and the two far walls
    var grid = []
    ticksA.forEach(function (a) {
        grid.push([[a, bFront, cMin], [a, bBack, cMin]])
        grid.push([[a, bBack, cMin], [a, bBack, cMax]])
    })
    ticksB.forEach(function (b) {
        grid.push([[aMin, b, cMin], [aMax, b, cMin]])
        grid.push([[aMax, b, cMin], [aMax, b, cMax]])
    })
    ticksC.forEach(function (c) {
        grid.push([[aMin, bBack, c], [aMax, bBack, c]])
        grid.push([[aMax, bBack, c], [aMax, bFront, c]])
    })
    g.append('g').selectAll('line')
        .data(grid)
        .enter()
        .append('line')
        .attr('x1', function (d) { return project(d[0][0], d[0][1], d[0][2])[0] })
        .attr('y1', function (d) { return project(d[0][0], d[0][1], d[0][2])[1] })
        .attr('x2', function (d) { return project(d[1][0], d[1][1], d[1][2])[0] })
        .attr('y2', function (d) { return project(d[1][0], d[1][1], d[1][2])[1] })
        .attr('stroke', '#000')
        .attr('stroke-width', 3)
        .attr('stroke-dasharray', '3 11.6')

    //trajectory
    var smooth = d3.line()
        .x(function (d) { return d[0] })
        .y(function (d) { return d[1] })
        .curve(d3.curveCatmullRom.alpha(0.5))
    var straight = d3.line()
        .x(function (d) { return d[0] })
        .y(function (d) { return d[1] })
    config.paths.forEach(function (p) {
        var pts = p.a.map(function (v, i) { return project(v, v, p.c[i]) })
        g.append('path')
            .attr('d', (p.straight || p.solid ? straight : smooth)(pts) + (p.solid ? 'Z' : ''))
            .attr('fill', p.solid ? lineColor : 'none')
            .attr('stroke', lineColor)
            .attr('stroke-width', p.w)
            .attr('stroke-linejoin', 'round')
    })

    //box edges
    var unitA = unit(config.edgeA)
    var unitB = unit(config.edgeB)
    var edges = [
        [project(aMin, bBack, cMin), project(aMin, bBack, cMax)],
        [project(aMin, bBack, cMin), project(aMin, bFront, cMin)],
        [project(aMin, bFront, cMin), project(aMax, bFront, cMin)]
    ]
    ticksC.forEach(function (c) {
        var p = project(aMin, bBack, c)
        edges.push([p, [p[0] - unitB[0] * tickLen, p[1] - unitB[1] * tickLen]])
        label(g, c, p[0] + config.cLabel[0], p[1] + config.cLabel[1], 'end')
    })
    ticksB.forEach(function (b) {
        var p = project(aMin, b, cMin)
        edges.push([p, [p[0] - unitA[0] * tickLen, p[1] - unitA[1] * tickLen]])
        label(g, b, p[0] + config.bLabel[0], p[1] + config.bLabel[1], 'end')
    })
    ticksA.forEach(function (a) {
        var p = project(a, bFront, cMin)
        edges.push([p, [p[0] + unitB[0] * tickLen, p[1] + unitB[1] * tickLen]])
        label(g, a, p[0] + config.aLabel[0], p[1] + config.aLabel[1], 'start')
    })
    g.append('g').selectAll('line')
        .data(edges)
        .enter()
        .append('line')
        .attr('x1', function (d) { return d[0][0] })
        .attr('y1', function (d) { return d[0][1] })
        .attr('x2', function (d) { return d[1][0] })
        .attr('y2', function (d) { return d[1][1] })
        .attr('stroke', axisColor)
        .attr('stroke-width', 2.6)
        .attr('stroke-linecap', 'square')

    config.names.forEach(function (n) { axisName(g, n) })

    //caption
    var cap = g.append('text')
        .attr('x', config.captionX)
        .attr('y', 1498)
        .attr('text-anchor', 'middle')
        .attr('font-family', 'Liberation Serif')
        .attr('font-size', 70)
        .attr('fill', '#000')
    cap.append('tspan').text('(')
    cap.append('tspan').attr('font-weight', 'bold').text(config.caption)
    cap.append('tspan').text(')')
}

function unit(v) {
    var n = Math.sqrt(v[0] * v[0] + v[1] * v[1])
    return [v[0] / n, v[1] / n]
}

function label(g, value, x, yCenter, anchor) {
    g.append('text')
        .attr('x', x)
        .attr('y', yCenter + 16)
        .attr('text-anchor', anchor)
        .attr('font-family', tickFont)
        .attr('font-size', 44.5)
        .attr('fill', axisColor)
        .text(value)
}

function axisName(g, n) {
    var t = g.append('text')
        .attr('transform', 'translate(' + n.x + ',' + n.y + ')' + (n.rotate ? ' rotate(-90)' : ''))
        .attr('font-family', tickFont)
        .attr('font-size', 45)
        .attr('fill', axisColor)
    t.append('tspan').text(n.main)
    t.append('tspan')
        .attr('x', n.dx)
        .attr('y', n.dy)
        .attr('font-size', 33)
        .text(n.sub)
}

Panel({
    ticksA: x1Ticks,
    ticksB: x2Ticks,
    ticksC: x3Ticks,
    origin: [210.5, 941],
    edgeA: [967, -142],
    edgeB: [496, 276.6],
    edgeC: -739,
    aLabel: [39, 53],
    bLabel: [-44.5, 39],
    cLabel: [-39.5, -17],
    paths: [
        { a: x1Transient, c: x3Transient, w: lineW, straight: true },
        { a: x1Open, c: x3Open, w: lineW },
        { a: x1Mid, c: x3Mid, w: 3 },
        { a: x1Left, c: x3Left, w: 3.2 },
        { a: x1Right, c: x3Right, w: lineW },
        { a: x1Core, c: x3Core, w: 3.4 }
    ],
    names: [
        { main: 'x', sub: '3', x: 69, y: 595, dx: 27, dy: 25, rotate: true },
        { main: 'x', sub: '2', x: 390, y: 1285, dx: 27, dy: 24 },
        { main: 'x', sub: '1', x: 1092.5, y: 1319, dx: 26, dy: 23 }
    ],
    caption: 'a',
    captionX: 909
})

Panel({
    ticksA: y1Ticks,
    ticksB: y2Ticks,
    ticksC: y3Ticks,
    origin: [2407.3, 865],
    edgeA: [1037.5, -144.9],
    edgeB: [426, 352.6],
    edgeC: -660.3,
    aLabel: [35, 60.3],
    bLabel: [-45, 39],
    cLabel: [-36.5, -24.5],
    paths: [
        { a: y1Transient, c: y3Transient, w: lineW, straight: true },
        { a: y1Loops, c: y3Loops, w: lineW, straight: true },
        { a: y1Solid, c: y3Solid, w: lineW, solid: true },
        { a: y1Bowl, c: y3Bowl, w: 3.8 },
        { a: y1Fan, c: y3Fan, w: lineW }
    ],
    names: [
        { main: 'y', sub: '3', x: 2264, y: 561, dx: 27, dy: 27, rotate: true },
        { main: 'y', sub: '2', x: 2533, y: 1266, dx: 27, dy: 26 },
        { main: 'y', sub: '1', x: 3238, y: 1315, dx: 27, dy: 27 }
    ],
    caption: 'b',
    captionX: 3105
})
</script>
</body>
</html>
